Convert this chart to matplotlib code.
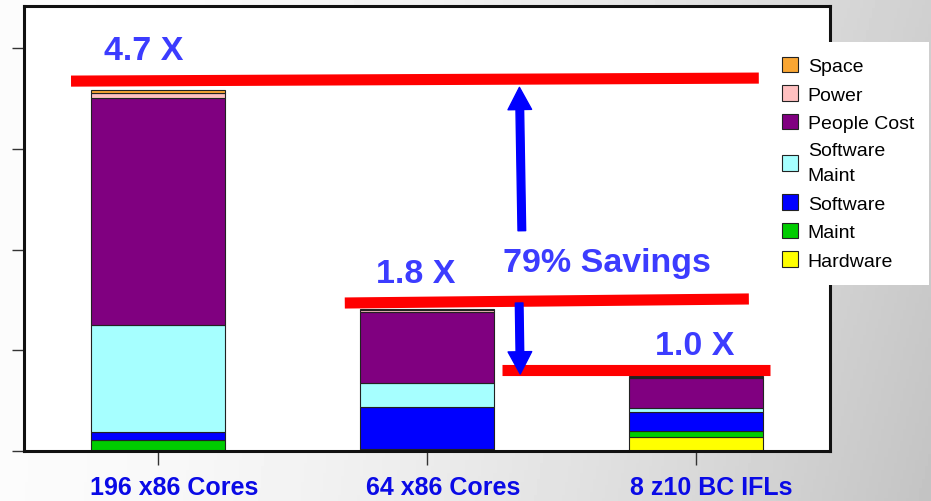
import numpy as np
import matplotlib.pyplot as plt
from matplotlib.transforms import ScaledTranslation

plt.rcParams['font.family'] = ['Liberation Sans', 'DejaVu Sans']

# cost breakdown per configuration (stacked bottom to top)
configs    = ["196 x86 Cores", "64 x86 Cores", "8 z10 BC IFLs"]
hardware   = [0.0,   0.0,   0.136]
maint      = [0.112, 0.015, 0.066]
software   = [0.074, 0.419, 0.182]
sw_maint   = [1.065, 0.244, 0.043]
people     = [2.251, 0.699, 0.295]
power      = [0.050, 0.023, 0.016]
space      = [0.036, 0.013, 0.006]

series = [("Hardware", hardware, "#ffff00"),
          ("Maint", maint, "#00cc00"),
          ("Software", software, "#0000ff"),
          ("Software\nMaint", sw_maint, "#a6ffff"),
          ("People Cost", people, "#800080"),
          ("Power", power, "#ffc0c0"),
          ("Space", space, "#f9a633")]

# ratio markers: label, line start/end (x, y), text position
ratios = [("4.7 X", (-0.325, 3.674), (2.235, 3.704), (-0.2015, 3.893)),
          ("1.8 X", (0.694, 1.470), (2.198, 1.510), (0.81, 1.678)),
          ("1.0 X", (1.280, 0.809), (2.276, 0.809), (1.847, 0.963))]

fig = plt.figure(figsize=(9.31, 5.02), dpi=100)

# soft grey backdrop
gx = np.linspace(0, 1, 300)
gy = np.linspace(0, 1, 160)
X, Y = np.meshgrid(gx, gy)
grad = 0.985 - 0.22 * X ** 1.6 + 0.05 * (1 - Y) * X
bg = fig.add_axes([0, 0, 1, 1], zorder=0)
bg.imshow(grad, aspect='auto', extent=[0, 1, 0, 1], cmap='gray', vmin=0, vmax=1)
bg.axis('off')

ax = fig.add_axes([24 / 931, 50 / 502, 806 / 931, 445 / 502], zorder=1)
ax.set_facecolor('white')

x = np.arange(len(configs))
bottom = np.zeros(len(configs))
handles = {}
for name, vals, col in series:
    bars = ax.bar(x, vals, 0.5, bottom=bottom, color=col,
                  edgecolor='#222222', linewidth=0.8)
    handles[name] = bars
    bottom += np.array(vals)

ax.set_xlim(-0.5, 2.5)
ax.set_ylim(0, 4.42)
ax.set_yticks([0, 1, 2, 3, 4])
ax.set_yticklabels([])
ax.tick_params(axis='y', direction='out', length=8.6, width=1, color='#333333')
ax.set_xticks(x)
ax.set_xticklabels(configs, fontsize=18, fontweight='bold', color='#0a0ae6')
ax.tick_params(axis='x', direction='out', length=10, width=1, color='#333333', pad=7)
offset = ScaledTranslation(0.16, 0, fig.dpi_scale_trans)
for lab in ax.get_xticklabels():
    lab.set_transform(lab.get_transform() + offset)
for sp in ax.spines.values():
    sp.set_linewidth(2.2)
    sp.set_color('#111111')

for label, p0, p1, tpos in ratios:
    ax.plot([p0[0], p1[0]], [p0[1], p1[1]], color='#ff0000', lw=8,
            solid_capstyle='butt', zorder=5)
    ax.text(tpos[0], tpos[1], label, fontsize=24.5, fontweight='bold',
            color='#3c3cff', ha='left', va='baseline', zorder=6)

ax.text(1.284, 1.790, "79% Savings", fontsize=24.5, fontweight='bold',
        color='#3c3cff', ha='left', va='baseline', zorder=6)

arrow = dict(width=5.5, headwidth=17, headlength=16, color='#0000ff', shrink=0)
ax.annotate("", xy=(1.344, 3.612), xytext=(1.353, 2.188), arrowprops=arrow, zorder=6)
ax.annotate("", xy=(1.347, 0.765), xytext=(1.343, 1.470), arrowprops=arrow, zorder=6)

order = ["Space", "Power", "People Cost", "Software\nMaint", "Software", "Maint", "Hardware"]
leg = ax.legend([handles[n] for n in order], order, loc='upper left',
                bbox_to_anchor=(767 / 931, 1 - 43 / 502),
                bbox_transform=fig.transFigure, fontsize=14,
                frameon=True, fancybox=False, edgecolor='none', facecolor='white',
                framealpha=1, handlelength=0.85, handleheight=0.85,
                handletextpad=0.5, labelspacing=0.52, borderpad=0.75, borderaxespad=0)
for t in leg.get_texts():
    t.set_linespacing(1.6)
leg.set_zorder(10)

fig.savefig("out.png", dpi=100)
